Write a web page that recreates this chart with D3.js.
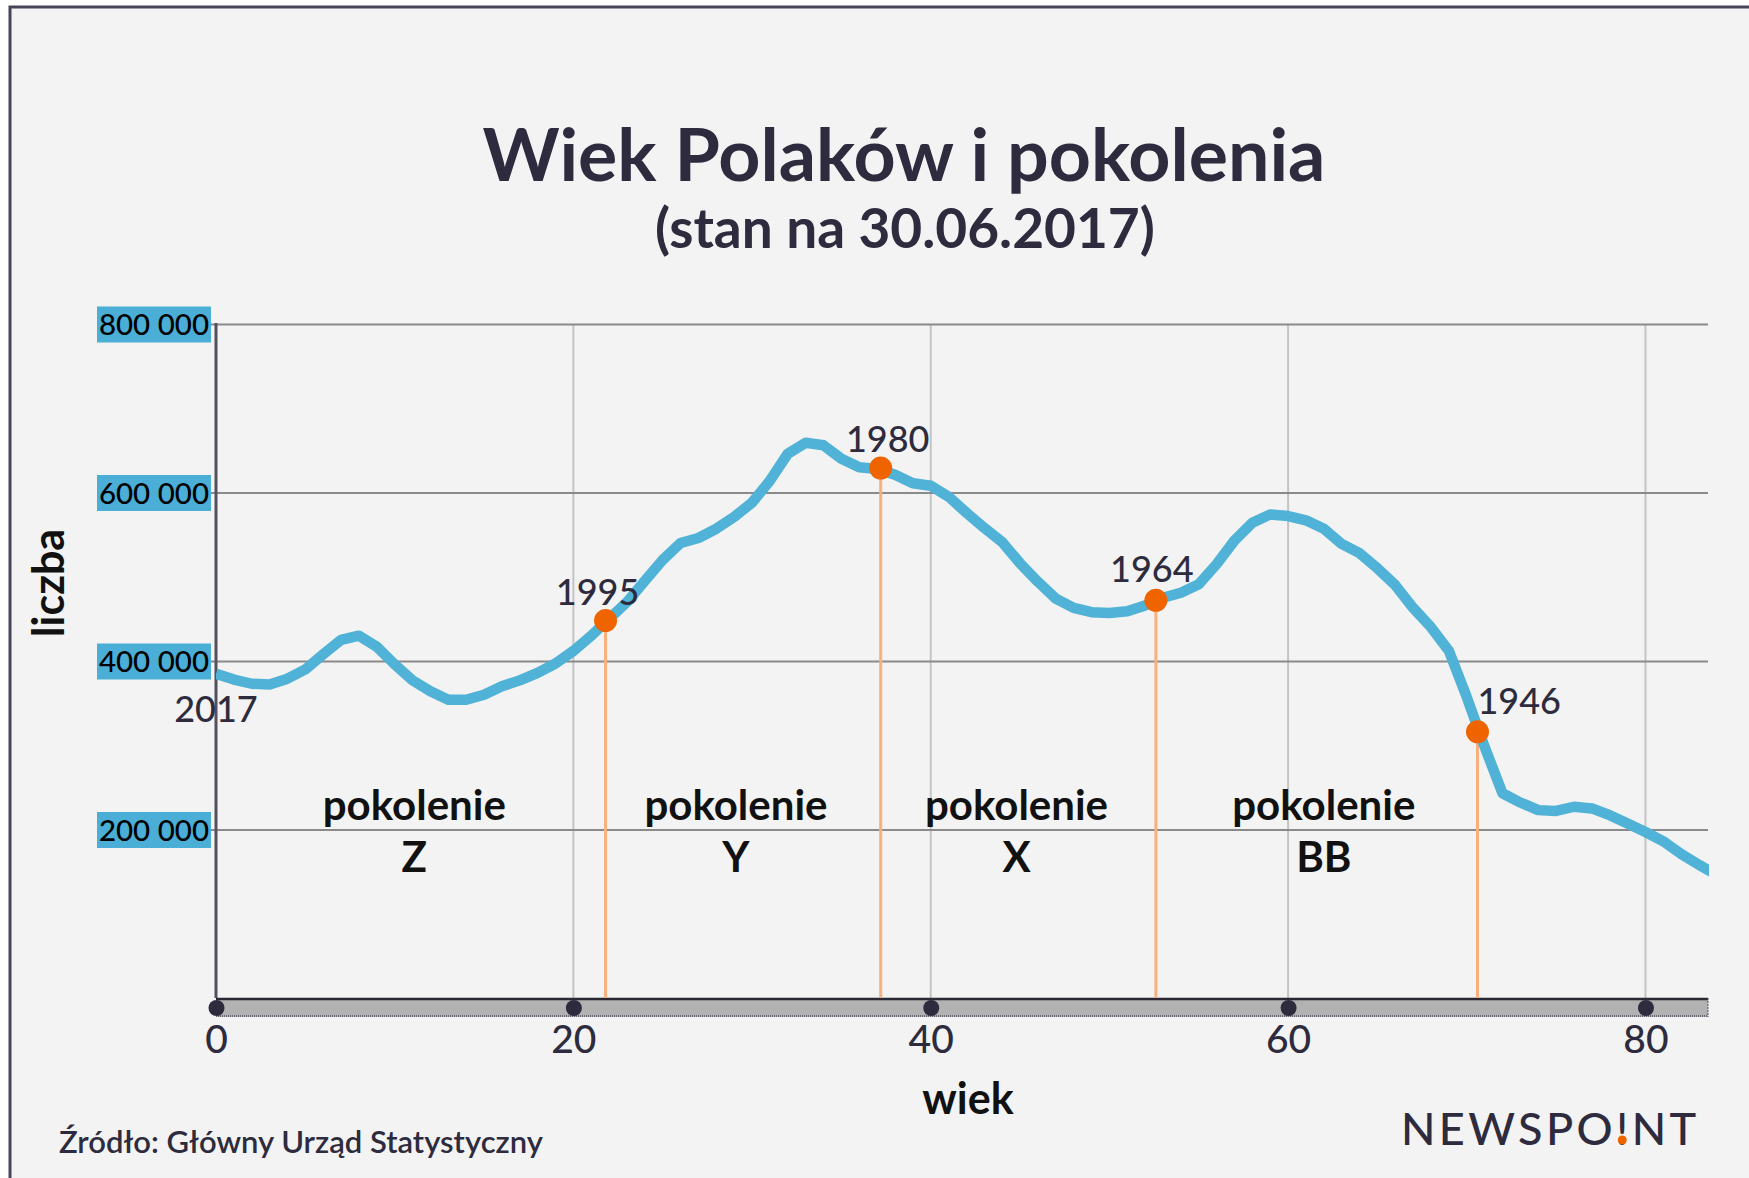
<!DOCTYPE html>
<meta charset="utf-8">
<style>
  body { margin: 0; background: #fff; }
  svg { display: block; }
  text { font-family: "Lato", "Open Sans", sans-serif; }
</style>
<body>
<script src="https://cdn.jsdelivr.net/npm/d3@7"></script>
<script>
// population by age (30.06.2017)
var ages = [0,1,2,3,4,5,6,7,8,9,10,11,12,13,14,15,16,17,18,19,20,21,22,23,24,25,26,27,28,29,
            30,31,32,33,34,35,36,37,38,39,40,41,42,43,44,45,46,47,48,49,50,51,52,53,54,55,56,57,58,59,
            60,61,62,63,64,65,66,67,68,69,70,71,72,73,74,75,76,77,78,79,80,81,82,83,84];
var counts = [385000,378000,373000,372000,379000,390000,408000,425000,430000,417000,
              396000,377000,364000,354000,354000,360000,370000,377000,386000,397000,
              412000,430000,450000,470000,495000,520000,540000,546000,557000,571000,
              588000,614000,646000,659000,656000,640000,630000,628000,621000,611000,
              608000,595000,576000,558000,541000,516000,494000,474000,463000,458000,
              457000,459000,466000,475000,481000,491000,515000,543000,564000,574000,
              572000,567000,557000,539000,528000,510000,490000,463000,440000,412000,
              357000,298000,243000,232000,223000,222000,227000,225000,217000,207000,
              197000,186000,171000,158000,146000];

// generation boundaries
var genYears  = ["1995", "1980", "1964", "1946"];
var genAges   = [21.8, 37.2, 52.6, 70.6];
var genCounts = [448000, 629000, 472000, 316000];

var genNames    = ["Z", "Y", "X", "BB"];
var genLabelAge = [11.1, 29.1, 44.8, 62];

var xTicks = [0, 20, 40, 60, 80];
var yTicks = [200000, 400000, 600000, 800000];

var W = 1749, H = 1178;
var x0 = 216, x1 = 1708, yTop = 324, yBase = 998;
var dark = "#2d2b3d";

var svg = d3.select("body").append("svg")
  .attr("width", W).attr("height", H);

// framed background
svg.append("rect")
  .attr("x", 10).attr("y", 7).attr("width", W + 20).attr("height", H + 20)
  .attr("fill", "#f2f3f2").attr("stroke", "#4a4458").attr("stroke-width", 3);

svg.append("clipPath").attr("id", "plot")
  .append("rect").attr("x", x0).attr("y", 0).attr("width", x1 - x0 + 1).attr("height", H);

var x = d3.scaleLinear().domain([0, 83.5]).range([x0, x1]);
var y = d3.scaleLinear().domain([0, 800000]).range([yBase, yTop]);

// titles
svg.append("text").attr("x", 904).attr("y", 181).attr("text-anchor", "middle")
  .style("font-size", "73.5px").style("font-weight", "bold").attr("fill", dark)
  .text("Wiek Polaków i pokolenia");
svg.append("text").attr("x", 905).attr("y", 248).attr("text-anchor", "middle")
  .style("font-size", "55px").style("font-weight", "bold").attr("fill", dark)
  .text("(stan na 30.06.2017)");

// vertical grid
svg.append("g").selectAll("line")
  .data(xTicks.filter(function(d){ return d > 0; }))
  .join("line")
  .attr("x1", function(d){ return x(d); }).attr("x2", function(d){ return x(d); })
  .attr("y1", yTop).attr("y2", yBase)
  .attr("stroke", "#c4c4c4").attr("stroke-width", 2);

// horizontal grid + labels
var yAxis = d3.axisLeft(y).tickValues(yTicks).tickSize(-(x1 - x0)).tickPadding(0)
  .tickFormat(function(d){ return d3.format(",")(d).replace(/,/g, " "); });
var gy = svg.append("g").attr("transform", "translate(" + x0 + ",0)").call(yAxis);
gy.select(".domain").remove();
gy.selectAll(".tick line").attr("stroke", "#8a8a8a").attr("stroke-width", 2).attr("x1", -5);
gy.selectAll(".tick").insert("rect", "text")
  .attr("x", -119).attr("y", -18).attr("width", 114).attr("height", 36)
  .attr("fill", "#4aaed6");
gy.selectAll(".tick text")
  .attr("x", -7).attr("dy", "0.36em")
  .style("font-size", "29.5px").style("font-weight", "500").style("font-family", "Lato, sans-serif")
  .attr("fill", "#000");

// y axis line
svg.append("line").attr("x1", x0).attr("x2", x0).attr("y1", yTop - 1).attr("y2", yBase)
  .attr("stroke", "#55505e").attr("stroke-width", 3);

// x axis bar
svg.append("rect").attr("x", x0).attr("y", yBase).attr("width", x1 - x0).attr("height", 19)
  .attr("fill", "#b1b2b1");
svg.append("line").attr("x1", x0).attr("x2", x1).attr("y1", yBase + 1).attr("y2", yBase + 1)
  .attr("stroke", "#2a2833").attr("stroke-width", 2.5);
svg.append("line").attr("x1", x0).attr("x2", x1).attr("y1", yBase + 18).attr("y2", yBase + 18)
  .attr("stroke", "#55535e").attr("stroke-width", 1.5).attr("stroke-dasharray", "1 1");
svg.append("line").attr("x1", x1).attr("x2", x1).attr("y1", yBase).attr("y2", yBase + 19)
  .attr("stroke", "#55535e").attr("stroke-width", 1).attr("stroke-dasharray", "2 1");

var xAxis = d3.axisBottom(x).tickValues(xTicks).tickSize(0).tickPadding(0);
var gx = svg.append("g").attr("transform", "translate(0," + yBase + ")").call(xAxis);
gx.select(".domain").remove();
gx.selectAll(".tick").append("circle").attr("cy", 10).attr("r", 8).attr("fill", dark);
gx.selectAll(".tick text").attr("y", 55).attr("dy", 0)
  .style("font-size", "39px").style("font-weight", "500").style("font-family", "Lato, sans-serif")
  .attr("fill", dark);

// drop lines for generation boundaries
var gens = genYears.map(function(d, i){ return {year: d, age: genAges[i], count: genCounts[i]}; });
svg.append("g").selectAll("line").data(gens).join("line")
  .attr("x1", function(d){ return x(d.age); }).attr("x2", function(d){ return x(d.age); })
  .attr("y1", function(d){ return y(d.count); }).attr("y2", yBase)
  .attr("stroke", "#f8b07c").attr("stroke-width", 3);

// population line
var pts = ages.map(function(a, i){ return [a, counts[i]]; });
svg.append("path").datum(pts)
  .attr("clip-path", "url(#plot)")
  .attr("fill", "none").attr("stroke", "#50b2d6").attr("stroke-width", 10.5)
  .attr("stroke-linejoin", "round")
  .attr("d", d3.line().x(function(d){ return x(d[0]); }).y(function(d){ return y(d[1]); }));

// markers
svg.append("g").selectAll("circle").data(gens).join("circle")
  .attr("cx", function(d){ return x(d.age); }).attr("cy", function(d){ return y(d.count); })
  .attr("r", 11.5).attr("fill", "#f06400");

var lblDx = {"1995": -8, "1980": 7, "1964": -4, "1946": 0};
var lblDy = {"1995": -16, "1980": -16, "1964": -18, "1946": -18};
svg.append("g").selectAll("text").data(gens).join("text")
  .attr("x", function(d){ return x(d.age) + lblDx[d.year]; })
  .attr("y", function(d){ return y(d.count) + lblDy[d.year]; })
  .attr("text-anchor", function(d){ return d.year === "1946" ? "start" : "middle"; })
  .style("font-size", "36px").style("font-weight", "500").attr("fill", dark)
  .text(function(d){ return d.year; });

svg.append("text").attr("x", x(0)).attr("y", y(counts[0]) + 48)
  .attr("text-anchor", "middle").style("font-size", "36px").style("font-weight", "500").attr("fill", dark)
  .text("2017");

// generation names
var gl = svg.append("g").selectAll("text").data(genNames).join("text")
  .attr("text-anchor", "middle")
  .style("font-size", "42px").style("font-weight", "bold").attr("fill", "#111");
gl.append("tspan").attr("x", function(d, i){ return x(genLabelAge[i]); }).attr("y", 820)
  .text("pokolenie");
gl.append("tspan").attr("x", function(d, i){ return x(genLabelAge[i]); }).attr("y", 872)
  .text(function(d){ return d; });

// axis titles
svg.append("text").attr("x", 968).attr("y", 1114).attr("text-anchor", "middle")
  .style("font-size", "43px").style("font-weight", "bold").attr("fill", "#111")
  .text("wiek");
svg.append("text").attr("transform", "translate(64,583) rotate(-90)")
  .attr("text-anchor", "middle")
  .style("font-size", "43px").style("font-weight", "bold").attr("fill", "#111")
  .text("liczba");

// source + logo
svg.append("text").attr("x", 59).attr("y", 1153)
  .style("font-size", "31px").style("font-weight", "600").attr("fill", dark)
  .text("Źródło: Główny Urząd Statystyczny");

var logo = svg.append("text").attr("x", 1401).attr("y", 1145)
  .style("font-size", "45px").style("font-weight", "500").style("letter-spacing", "3.4px").attr("fill", dark)
  .text("NEWSPO!NT");
var ext = logo.node().getExtentOfChar(6);
svg.append("circle").attr("cx", ext.x + ext.width / 2 - 1.7).attr("cy", 1140)
  .attr("r", 4.5).attr("fill", "#f06400");
</script>
</body>
